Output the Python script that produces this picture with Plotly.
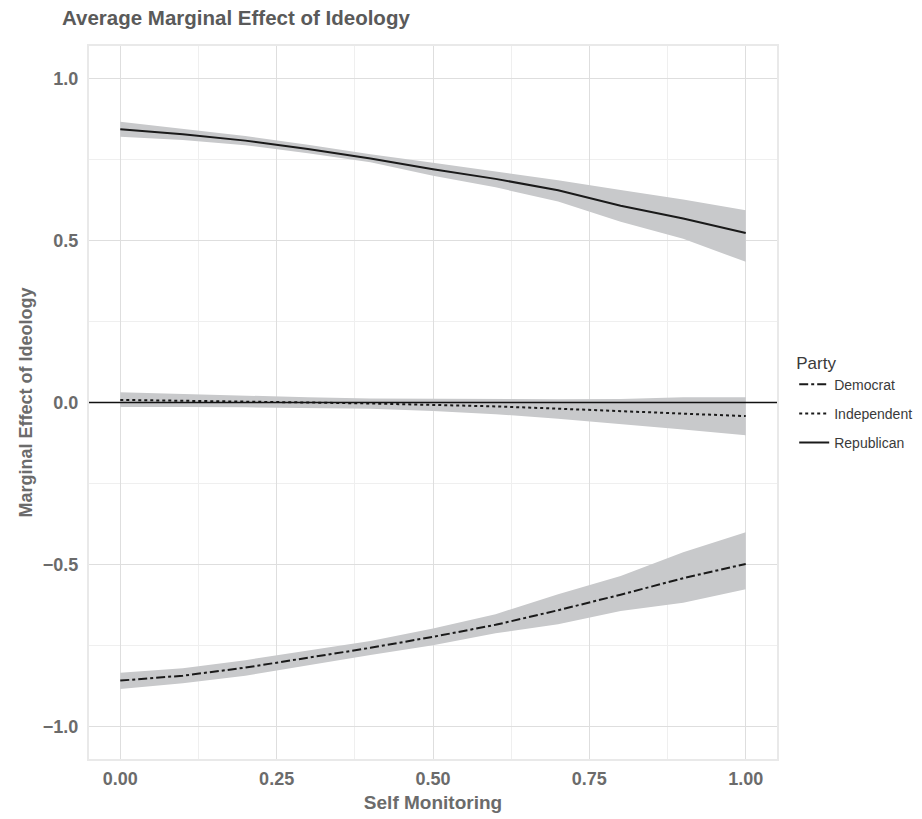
import plotly.graph_objects as go

self_monitoring = [0.0, 0.1, 0.2, 0.3, 0.4, 0.5, 0.6, 0.7, 0.8, 0.9, 1.0]

dem_fit = [-0.858, -0.843, -0.818, -0.787, -0.757, -0.723, -0.686, -0.641, -0.593, -0.542, -0.498]
dem_lo = [-0.884, -0.866, -0.843, -0.810, -0.779, -0.749, -0.712, -0.684, -0.643, -0.618, -0.576]
dem_hi = [-0.834, -0.820, -0.795, -0.765, -0.736, -0.697, -0.653, -0.592, -0.535, -0.462, -0.400]

ind_fit = [0.008, 0.006, 0.003, 0.000, -0.003, -0.007, -0.012, -0.019, -0.026, -0.035, -0.042]
ind_lo = [-0.014, -0.014, -0.015, -0.016, -0.019, -0.026, -0.036, -0.050, -0.066, -0.083, -0.101]
ind_hi = [0.032, 0.026, 0.021, 0.016, 0.012, 0.011, 0.010, 0.010, 0.011, 0.016, 0.016]

rep_fit = [0.843, 0.828, 0.808, 0.782, 0.753, 0.720, 0.690, 0.655, 0.607, 0.568, 0.523]
rep_lo = [0.820, 0.810, 0.794, 0.769, 0.741, 0.700, 0.664, 0.620, 0.558, 0.505, 0.434]
rep_hi = [0.866, 0.845, 0.822, 0.795, 0.766, 0.740, 0.714, 0.686, 0.656, 0.626, 0.593]

series = [
    ("Democrat", dem_fit, dem_lo, dem_hi, "dashdot"),
    ("Independent", ind_fit, ind_lo, ind_hi, "dot"),
    ("Republican", rep_fit, rep_lo, rep_hi, "solid"),
]

x_ticks = [0.0, 0.25, 0.5, 0.75, 1.0]
y_ticks = [-1.0, -0.5, 0.0, 0.5, 1.0]

band_color = "rgb(200,201,203)"
line_color = "#1a1a1a"
FONT = "Liberation Sans, Arial, sans-serif"

fig = go.Figure()

for name, fit, lo, hi, dash in series:
    fig.add_trace(go.Scatter(
        x=self_monitoring + self_monitoring[::-1],
        y=hi + lo[::-1],
        fill="toself", fillcolor=band_color,
        line=dict(width=0, color=band_color),
        mode="lines", showlegend=False, hoverinfo="skip",
    ))

fig.add_hline(y=0, line=dict(color="#111111", width=1.6), layer="above")

for name, fit, lo, hi, dash in series:
    fig.add_trace(go.Scatter(
        x=self_monitoring, y=fit, mode="lines", name=name, legendgroup=name,
        line=dict(color=line_color, width=2, dash=dash),
    ))

fig.update_layout(
    width=922, height=819,
    margin=dict(l=89, r=145, t=46, b=60, autoexpand=False),
    plot_bgcolor="white", paper_bgcolor="white",
    font=dict(family=FONT, color="#6b6b6b"),
    title=dict(
        text="Average Marginal Effect of Ideology",
        x=62 / 922, xref="container", xanchor="left",
        y=1 - 18 / 819, yref="container", yanchor="middle",
        font=dict(size=20.5, color="#5a5a5a", weight="bold", family=FONT),
    ),
    legend=dict(
        title=dict(text="Party", font=dict(size=17, color="#3a3a3a")),
        x=1.025, xanchor="left", y=0.5, yanchor="middle",
        font=dict(size=14, color="#3a3a3a"),
        tracegroupgap=8, itemwidth=30,
        bgcolor="rgba(0,0,0,0)",
    ),
    xaxis=dict(
        range=[-0.05, 1.05], tickvals=x_ticks, tickformat=".2f",
        showgrid=True, gridcolor="#dedede", gridwidth=1,
        minor=dict(dtick=0.125, tick0=0.125, showgrid=True, gridcolor="#efefef", gridwidth=1),
        zeroline=False, ticks="", ticklabelstandoff=2, automargin=False,
        showline=True, mirror=True, linecolor="#e9e9e9", linewidth=2,
        tickfont=dict(size=18, color="#6b6b6b", weight="bold"),
        title=dict(text="Self Monitoring", standoff=8,
                   font=dict(size=19, color="#6b6b6b", weight="bold")),
    ),
    yaxis=dict(
        range=[-1.1, 1.1], tickvals=y_ticks, tickformat=".1f",
        showgrid=True, gridcolor="#dedede", gridwidth=1,
        minor=dict(dtick=0.25, tick0=0.25, showgrid=True, gridcolor="#efefef", gridwidth=1),
        zeroline=False, ticks="", ticklabelstandoff=5, automargin=False,
        showline=True, mirror=True, linecolor="#e9e9e9", linewidth=2,
        tickfont=dict(size=18, color="#6b6b6b", weight="bold"),
        title=dict(text="Marginal Effect of Ideology", standoff=6,
                   font=dict(size=18, color="#6b6b6b", weight="bold")),
    ),
)

fig.write_html("out.html")
